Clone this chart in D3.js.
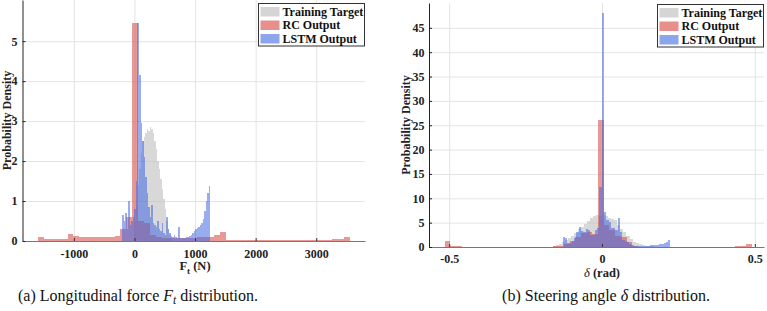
<!DOCTYPE html>
<html>
<head>
<meta charset="utf-8">
<script src="https://cdn.jsdelivr.net/npm/d3@7"></script>
<style>
body { margin: 0; background: #fff; }
svg text { font-family: "Liberation Serif", "DejaVu Serif", "Times New Roman", Times, serif; }
</style>
</head>
<body>
<svg width="767" height="311"></svg>
<script>
var seriesNames = ["Training Target", "RC Output", "LSTM Output"];

// (a) longitudinal force, histogram heights per bin (N)
var ftTargetStart = 0, ftTargetBin = 25;
var ftTarget = [0.5, 0.9, 1.4, 1.8, 2.2, 2.5, 2.6, 2.7, 2.8, 2.75, 2.85, 2.8, 2.7, 2.5, 2.3,
                2.0, 1.8, 1.55, 1.3, 1.05, 0.8, 0.5, 0.3, 0.15, 0.07];
var ftRcStart = -1590, ftRcBin = 97;
var ftRc = [0.1, 0.06, 0.05, 0.04, 0.04, 0.17, 0.13, 0.11, 0.1, 0.1, 0.1, 0.1, 0.1, 0.12, 0.3, 0.6,
            5.45, 0.5, 0.45, 0.15, 0.1, 0.08, 0.08, 0.08, 0.08, 0.08, 0.08, 0.09, 0.1, 0.1, 0.15, 0.22,
            0.03, 0.02, 0.02, 0.02, 0.02, 0.02, 0.03, 0.03, 0.03, 0.02, 0.02, 0.02, 0.02, 0.02, 0.02, 0.02,
            0.03, 0.03, 0.04, 0.06, 0.1];
var ftLstmStart = -200, ftLstmBin = 25;
var ftLstm = [0.65, 0.5, 0.7, 0.3, 1.0, 0.4, 0.5, 0.6, 0.8, 1.5, 5.45, 4.15, 2.95, 2.5, 2.1, 1.6,
              1.2, 0.85, 0.6, 0.9, 0.45, 0.4, 0.35, 0.5, 0.3, 0.25, 0.45, 0.2, 0.15, 0.6, 0.3, 0.2,
              0.12, 0.1, 0.15, 0.1, 0.08, 0.35, 0.08, 0.07, 0.07, 0.08, 0.09, 0.1, 0.12, 0.15, 0.2, 0.25,
              0.3, 0.33, 0.36, 0.4, 0.45, 0.55, 0.75, 1.0, 1.2, 1.37];
var ftXTicks = [-1000, 0, 1000, 2000, 3000];
var ftYTicks = [0, 1, 2, 3, 4, 5];

// (b) steering angle, histogram heights per bin (rad)
var deltaTargetStart = -0.16, deltaTargetBin = 0.01;
var deltaTarget = [0.2, 0.4, 0.7, 1.0, 1.4, 1.8, 2.3, 2.9, 3.6, 4.2, 4.8, 5.4, 5.9, 6.3, 6.5, 6.3,
                   6.6, 6.4, 6.0, 5.7, 5.5, 4.6, 3.6, 3.0, 2.2, 1.6, 1.1, 0.8, 0.6, 0.4, 0.3, 0.2,
                   0.15, 0.1, 0.05];
var deltaRcStart = -0.515, deltaRcBin = 0.0186;
var deltaRc = [1.2, 0.25, 0.15, 0.1, 0.1, 0.1, 0.1, 0.1, 0.1, 0.1, 0.1, 0.1, 0.1, 0.1, 0.1, 0.1,
               0.1, 0.1, 0.1, 0.12, 0.2, 0.6, 1.2, 2.0, 2.8, 3.0, 2.6, 26, 4.5, 3.5, 2.2, 2.0,
               1.0, 0.2, 0.1, 0.1, 0.1, 0.1, 0.1, 0.1, 0.1, 0.1, 0.1, 0.1, 0.1, 0.1, 0.1, 0.1,
               0.1, 0.1, 0.1, 0.12, 0.15, 0.6];
var deltaLstmStart = -0.1285, deltaLstmBin = 0.0075;
var deltaLstm = [2.0, 1.9, 0.9, 0.8, 1.2, 1.8, 3.0, 4.1, 3.3, 3.0, 3.7, 3.5, 2.5, 2.4, 3.5, 3.8,
                 12.4, 48.1, 7.2, 5.5, 5.2, 4.0, 3.8, 3.5, 5.9, 3.1, 1.4, 1.2, 1.0, 0.6, 0.4, 0.3,
                 0.25, 0.2, 0.2, 0.2, 0.25, 0.3, 0.35, 0.4, 0.45, 0.5, 0.6, 0.7, 0.8, 1.0, 1.4];
var deltaXTicks = [-0.5, 0, 0.5];
var deltaYTicks = [0, 5, 10, 15, 20, 25, 30, 35, 40, 45];

var colors = ["rgb(190,190,190)", "rgb(217,83,79)", "rgb(65,105,225)"];
var alphas = [0.6, 0.6, 0.55];
var serif = '"Liberation Serif", "DejaVu Serif", serif';

var svg = d3.select('svg');

function drawPanel(p) {
    var x = d3.scaleLinear().domain(p.xDomain).range([p.left, p.right]);
    var y = d3.scaleLinear().domain(p.yDomain).range([p.bottom, p.top]);
    var g = svg.append('g').attr('class', 'panel');

    // grid
    g.append('g')
        .attr('transform', 'translate(0,' + p.bottom + ')')
        .call(d3.axisBottom(x).tickValues(p.xTicks).tickSize(-(p.bottom - p.top)).tickFormat(''))
        .call(function(s){ s.select('.domain').remove(); })
        .selectAll('line').attr('stroke', '#e4e4e4');
    g.append('g')
        .attr('transform', 'translate(' + p.left + ',0)')
        .call(d3.axisLeft(y).tickValues(p.yTicks.slice(1)).tickSize(-(p.right - p.left)).tickFormat(''))
        .call(function(s){ s.select('.domain').remove(); })
        .selectAll('line').attr('stroke', '#e4e4e4');

    // histograms
    p.series.forEach(function(s, k){
        g.append('g')
            .attr('class', 'hist')
            .attr('fill', colors[k])
            .attr('fill-opacity', alphas[k])
            .attr('shape-rendering', 'crispEdges')
          .selectAll('rect')
            .data(s.values)
            .enter()
            .append('rect')
                .attr('x', function(d, i){ return x(s.start + i * s.bin); })
                .attr('width', function(d, i){ return x(s.start + (i + 1) * s.bin) - x(s.start + i * s.bin); })
                .attr('y', function(d){ return y(d); })
                .attr('height', function(d){ return y(0) - y(d); });
    });

    // axes
    var xa = g.append('g')
        .attr('transform', 'translate(0,' + p.bottom + ')')
        .call(d3.axisBottom(x).tickValues(p.xTicks).tickSize(-3).tickSizeOuter(0)
              .tickPadding(p.xPad).tickFormat(function(d){ return String(d); }));
    xa.select('.domain').attr('stroke', '#777');
    xa.selectAll('.tick line').attr('stroke', '#333');
    var ya = g.append('g')
        .attr('transform', 'translate(' + p.left + ',0)')
        .call(d3.axisLeft(y).tickValues(p.yTicks).tickSize(-3).tickSizeOuter(0)
              .tickPadding(p.yPad).tickFormat(function(d){ return String(d); }));
    ya.select('.domain').attr('stroke', '#222');
    ya.selectAll('.tick line').attr('stroke', '#222');
    g.selectAll('.tick text')
        .attr('font-family', serif)
        .attr('font-weight', 'bold')
        .attr('font-size', 12)
        .attr('fill', '#222');

    // y label
    g.append('text')
        .attr('transform', 'translate(' + p.yLabelX + ',' + ((p.top + p.bottom) / 2) + ') rotate(-90)')
        .attr('text-anchor', 'middle')
        .attr('dy', '0.35em')
        .attr('font-family', serif)
        .attr('font-weight', 'bold')
        .attr('font-size', 12)
        .attr('fill', '#222')
        .text('Probability Density');

    // legend
    var lg = g.append('g').attr('transform', 'translate(' + p.legendX + ',' + p.legendY + ')');
    lg.append('rect')
        .attr('width', 106).attr('height', 42.5)
        .attr('fill', '#fff').attr('stroke', '#333').attr('stroke-width', 1);
    var rows = lg.selectAll('.row')
        .data(seriesNames)
        .enter()
        .append('g').attr('class', 'row')
            .attr('transform', function(d, i){ return 'translate(2,' + (3.5 + i * 13.5) + ')'; });
    rows.append('rect')
        .attr('width', 19).attr('height', 9.5)
        .attr('fill', function(d, i){ return colors[i]; })
        .attr('fill-opacity', function(d, i){ return alphas[i] + 0.05; });
    rows.append('text')
        .attr('x', 22).attr('y', 8.5)
        .attr('font-family', serif)
        .attr('font-weight', 'bold')
        .attr('font-size', 12)
        .attr('fill', '#111')
        .text(function(d){ return d; });
    return g;
}

var gA = drawPanel({
    left: 22.5, right: 365, top: 0, bottom: 241,
    xDomain: [-1848, 3805], yDomain: [0, 6.03],
    xTicks: ftXTicks, yTicks: ftYTicks, xPad: 8, yPad: 5,
    yLabelX: 6.5, legendX: 258.5, legendY: 3.5,
    series: [
        {start: ftTargetStart, bin: ftTargetBin, values: ftTarget},
        {start: ftRcStart, bin: ftRcBin, values: ftRc},
        {start: ftLstmStart, bin: ftLstmBin, values: ftLstm}
    ]
});

var gB = drawPanel({
    left: 429, right: 764, top: 3, bottom: 247,
    xDomain: [-0.566, 0.53], yDomain: [0, 50.1],
    xTicks: deltaXTicks, yTicks: deltaYTicks, xPad: 7.5, yPad: 4.5,
    yLabelX: 405.5, legendX: 657.5, legendY: 4.5,
    series: [
        {start: deltaTargetStart, bin: deltaTargetBin, values: deltaTarget},
        {start: deltaRcStart, bin: deltaRcBin, values: deltaRc},
        {start: deltaLstmStart, bin: deltaLstmBin, values: deltaLstm}
    ]
});

// x labels
var xtA = svg.append('text')
    .attr('x', 195).attr('y', 270)
    .attr('text-anchor', 'middle')
    .attr('font-family', serif)
    .attr('font-weight', 'bold').attr('font-size', 12.5).attr('fill', '#222');
xtA.append('tspan').text('F');
xtA.append('tspan').attr('font-size', 9).attr('dy', 4).text('t');
xtA.append('tspan').attr('dy', -4).text(' (N)');

var xtB = svg.append('text')
    .attr('x', 602).attr('y', 277)
    .attr('text-anchor', 'middle')
    .attr('font-family', serif)
    .attr('font-weight', 'bold').attr('font-size', 12.5).attr('fill', '#222');
xtB.append('tspan').attr('font-style', 'italic').attr('font-weight', 'normal').text('\u03b4');
xtB.append('tspan').text(' (rad)');

// captions
var capA = svg.append('text')
    .attr('x', 138).attr('y', 301)
    .attr('text-anchor', 'middle')
    .attr('font-family', serif)
    .attr('font-size', 16).attr('fill', '#111');
capA.append('tspan').text('(a) Longitudinal force ');
capA.append('tspan').attr('font-style', 'italic').text('F');
capA.append('tspan').attr('font-style', 'italic').attr('font-size', 11.5).attr('dy', 3).text('t');
capA.append('tspan').attr('dy', -3).text(' distribution.');

var capB = svg.append('text')
    .attr('x', 606).attr('y', 301)
    .attr('text-anchor', 'middle')
    .attr('font-family', serif)
    .attr('font-size', 16).attr('fill', '#111');
capB.append('tspan').text('(b) Steering angle ');
capB.append('tspan').attr('font-style', 'italic').text('\u03b4');
capB.append('tspan').text(' distribution.');
</script>
</body>
</html>
